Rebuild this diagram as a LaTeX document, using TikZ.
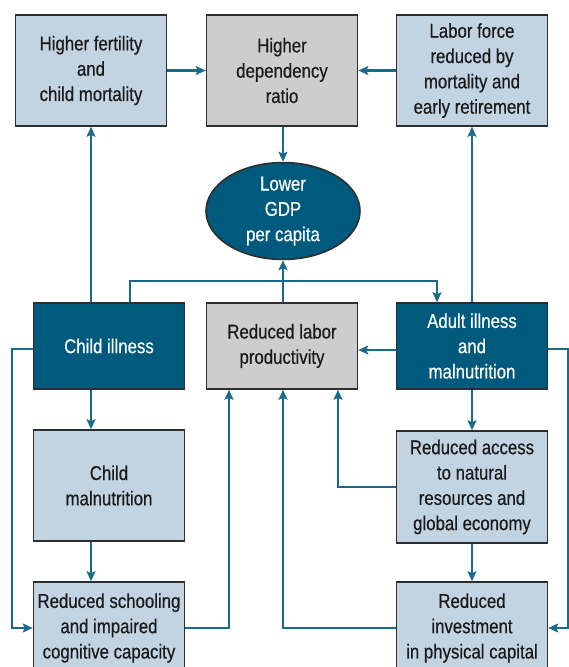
\documentclass[tikz,border=0pt]{standalone}
\usepackage{fontspec}
\setmainfont{Liberation Sans}[FakeStretch=0.84,FakeBold=0.4]
\usetikzlibrary{arrows.meta,shapes.geometric}
\definecolor{darkb}{HTML}{005A7D}
\definecolor{lightb}{HTML}{C2D3E1}
\definecolor{greyb}{HTML}{CDCDCD}
\definecolor{linec}{HTML}{1A6A8C}
\definecolor{edgec}{HTML}{2E2E2E}
\definecolor{txt}{HTML}{1A1A1A}
\begin{document}
\begin{tikzpicture}[x=1pt,y=-1pt,
  font=\fontsize{20}{25.3}\selectfont,
  box/.style={draw=edgec, line width=1.6pt, align=center, inner sep=0pt, minimum width=151pt, text=txt},
  lbox/.style={box, fill=lightb},
  gbox/.style={box, fill=greyb},
  dbox/.style={box, fill=darkb, text=white},
  arr/.style={draw=linec, line width=2.3pt, -{Stealth[length=10pt,width=9pt,inset=2pt]}}]
\useasboundingbox (0,0) rectangle (569,667);
\node[lbox, minimum height=111pt] (fert) at (91,70.5) {Higher fertility\\and\\child mortality};
\node[gbox, minimum height=111pt] (dep) at (282,70.5) {Higher\\dependency\\ratio};
\node[lbox, minimum height=111pt] (labor) at (472,70.5) {Labor force\\reduced by\\mortality and\\early retirement};
\node[ellipse, draw=edgec, line width=1.6pt, fill=darkb, text=white, align=center, inner sep=0pt, minimum width=154pt, minimum height=87pt] (gdp) at (283,211) {Lower\\GDP\\per capita};
\node[dbox, minimum height=86pt] (child) at (109,346) {Child illness};
\node[gbox, minimum height=86pt] (prod) at (282,346) {Reduced labor\\productivity};
\node[dbox, minimum height=86pt] (adult) at (472,346) {Adult illness\\and\\malnutrition};
\node[lbox, minimum height=111pt] (cmal) at (109,485.5) {Child\\malnutrition};
\node[lbox, minimum height=112pt] (access) at (472,487) {Reduced access\\to natural\\resources and\\global economy};
\node[lbox, minimum height=92pt] (school) at (109,628) {Reduced schooling\\and impaired\\cognitive capacity};
\node[lbox, minimum height=92pt] (invest) at (472,628) {Reduced\\investment\\in physical capital};
% top row
\draw[arr] (fert.east) -- (dep.west);
\draw[arr] (labor.west) -- (dep.east);
\draw[arr] (dep.south -| gdp.north) -- (gdp.north);
\draw[arr] (prod.north -| gdp.south) -- (gdp.south);
% child illness
\draw[arr] (child.north -| fert.south) -- (fert.south);
\draw[arr] ([xshift=21pt]child.north) -- ++(0,-21) -| ([xshift=-35pt]adult.north);
\draw[arr] (child.south -| fert.south) -- (cmal.north -| fert.south);
\draw[arr] (cmal.south -| fert.south) -- (school.north -| fert.south);
\draw[arr] ([yshift=-3pt]child.west) -- ++(-21,0) |- (school.west);
% adult illness
\draw[arr] (adult.north) -- (labor.south);
\draw[arr] ([yshift=-4pt]adult.west) -- ([yshift=-4pt]prod.east);
\draw[arr] (adult.south) -- (access.north);
\draw[arr] (access.south) -- (invest.north);
\draw[arr] ([yshift=-3pt]adult.east) -- ++(20,0) |- (invest.east);
% to productivity
\draw[arr] (school.east) -| ([xshift=-53pt]prod.south);
\draw[arr] (invest.west) -| ([xshift=1pt]prod.south);
\draw[arr] (access.west) -| ([xshift=56pt]prod.south);
\end{tikzpicture}
\end{document}
